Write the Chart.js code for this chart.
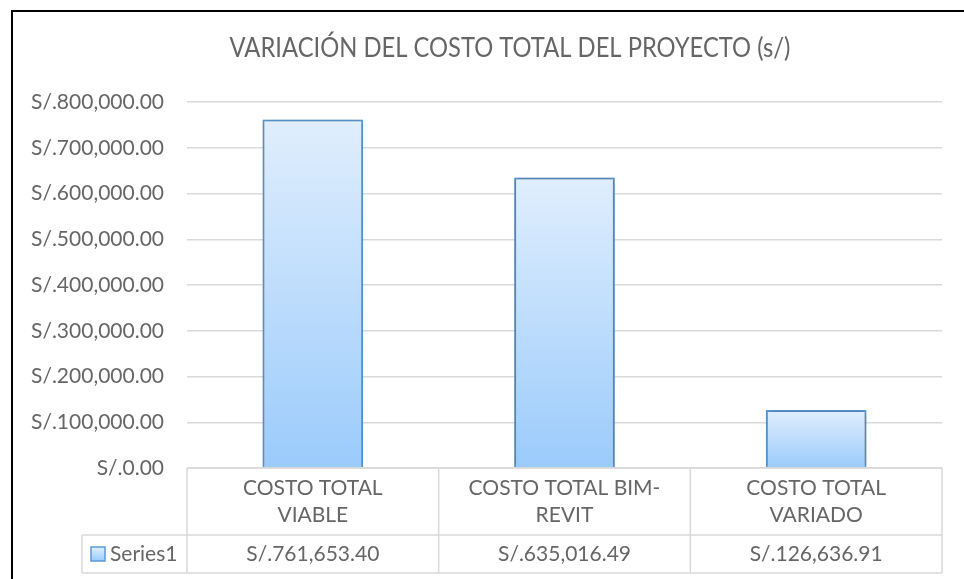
<!DOCTYPE html>
<html>
<head>
<meta charset="utf-8">
<title>Costo total del proyecto</title>
<script src="https://cdn.jsdelivr.net/npm/chart.js@4.4.0/dist/chart.umd.min.js"></script>
<style>
  html, body { margin: 0; padding: 0; background: #fff; overflow: hidden; }
  /* chart frame, only its left and top edges fall inside the window */
  #frame { position: absolute; left: 11px; top: 10px; width: 1200px; height: 800px;
           border-left: 2px solid #000; border-top: 2px solid #000; }
  #wrap { position: absolute; left: 0; top: 0; width: 964px; height: 579px; }
</style>
</head>
<body>
<div id="frame"></div>
<div id="wrap"><canvas id="chart" width="964" height="579"></canvas></div>
<script>
const chartTitle = "VARIACIÓN DEL COSTO TOTAL DEL PROYECTO (s/)";
const seriesName = "Series1";
const categories = [
  ["COSTO TOTAL", "VIABLE"],
  ["COSTO TOTAL BIM-", "REVIT"],
  ["COSTO TOTAL", "VARIADO"]
];
const costs = [761653.40, 635016.49, 126636.91];
const yTicks = [0, 100000, 200000, 300000, 400000, 500000, 600000, 700000, 800000];

const TEXT = "#666666";
const GRID = "#d9d9d9";
const FONT = "Lato, 'Liberation Sans', sans-serif";

function soles(v) {
  return "S/." + v.toLocaleString("en-US", { minimumFractionDigits: 2, maximumFractionDigits: 2 });
}

// light-to-darker blue, per bar, from its top down to zero
function barFill(ctx) {
  const chart = ctx.chart;
  const y = chart.scales && chart.scales.y;
  if (!chart.chartArea || !y || ctx.type !== "data") return "#bcdcfc";
  const top = y.getPixelForValue(ctx.raw);
  const bottom = y.getPixelForValue(0);
  if (!isFinite(top) || !isFinite(bottom) || top === bottom) return "#bcdcfc";
  const g = chart.ctx.createLinearGradient(0, top, 0, bottom);
  g.addColorStop(0, "#e0eefd");
  g.addColorStop(1, "#9bcbfb");
  return g;
}

// title a bit narrower than the font's natural width
const titlePlugin = {
  id: "titleText",
  afterDraw(chart) {
    const c = chart.ctx;
    c.save();
    c.fillStyle = TEXT;
    c.font = "27px " + FONT;
    c.textAlign = "center";
    c.textBaseline = "middle";
    c.translate(510, 48);
    c.scale(0.88, 1);
    c.fillText(chartTitle, 0, 0);
    c.restore();
  }
};

const shadowPlugin = {
  id: "barShadow",
  beforeDatasetsDraw(chart) {
    const c = chart.ctx;
    c.save();
    c.shadowColor = "rgba(0,0,0,0.35)";
    c.shadowBlur = 5;
    c.shadowOffsetX = 0;
    c.shadowOffsetY = 0;
  },
  afterDatasetsDraw(chart) {
    chart.ctx.restore();
  }
};

// data table under the plot: category names, values and the legend key
const tablePlugin = {
  id: "dataTable",
  afterDraw(chart) {
    const c = chart.ctx;
    const area = chart.chartArea;
    const xs = chart.scales.x;
    const n = categories.length;
    const colW = (area.right - area.left) / n;
    const top = area.bottom;
    const mid = top + 67;
    const bot = top + 105;
    const keyLeft = 82;

    c.save();
    c.strokeStyle = GRID;
    c.lineWidth = 1.5;
    c.beginPath();
    c.moveTo(area.left, top); c.lineTo(area.right, top);
    c.moveTo(keyLeft, mid); c.lineTo(area.right, mid);
    c.moveTo(keyLeft, bot); c.lineTo(area.right, bot);
    for (let i = 0; i <= n; i++) {
      const x = area.left + i * colW;
      c.moveTo(x, top); c.lineTo(x, bot);
    }
    c.moveTo(keyLeft, mid); c.lineTo(keyLeft, bot);
    c.stroke();

    c.fillStyle = TEXT;
    c.font = "21px " + FONT;
    c.textAlign = "center";
    c.textBaseline = "middle";
    categories.forEach((lines, i) => {
      const cx = xs.getPixelForValue(i);
      lines.forEach((t, k) => c.fillText(t, cx, top + 20 + k * 27));
      c.fillText(soles(costs[i]), cx, top + 86);
    });

    // legend key
    const g = c.createLinearGradient(0, top + 79, 0, top + 93);
    g.addColorStop(0, "#e0eefd");
    g.addColorStop(1, "#9bcbfb");
    c.fillStyle = g;
    c.fillRect(91, top + 79, 14, 14);
    c.strokeStyle = "#5b9bd5";
    c.lineWidth = 1.5;
    c.strokeRect(91, top + 79, 14, 14);
    c.fillStyle = TEXT;
    c.textAlign = "left";
    c.fillText(seriesName, 110, top + 86);
    c.restore();
  }
};

new Chart(document.getElementById("chart"), {
  type: "bar",
  data: {
    labels: categories,
    datasets: [{
      label: seriesName,
      data: costs,
      backgroundColor: barFill,
      borderColor: "#5b9bd5",
      borderWidth: 2,
      borderSkipped: "bottom",
      categoryPercentage: 1,
      barPercentage: 0.4
    }]
  },
  options: {
    responsive: false,
    animation: false,
    layout: { padding: { top: 102, right: 22, bottom: 111, left: 0 } },
    plugins: {
      legend: { display: false },
      title: { display: false },
      tooltip: { enabled: false }
    },
    scales: {
      x: { display: false },
      y: {
        min: 0,
        max: 800000,
        afterFit(scale) { scale.width = 187; },
        afterBuildTicks(scale) { scale.ticks = yTicks.map(v => ({ value: v })); },
        border: { display: false },
        grid: { color: GRID, lineWidth: 1.5, drawTicks: false },
        ticks: {
          padding: 23,
          color: TEXT,
          font: { family: FONT, size: 21 },
          callback: v => soles(v)
        }
      }
    }
  },
  plugins: [titlePlugin, shadowPlugin, tablePlugin]
});
</script>
</body>
</html>
